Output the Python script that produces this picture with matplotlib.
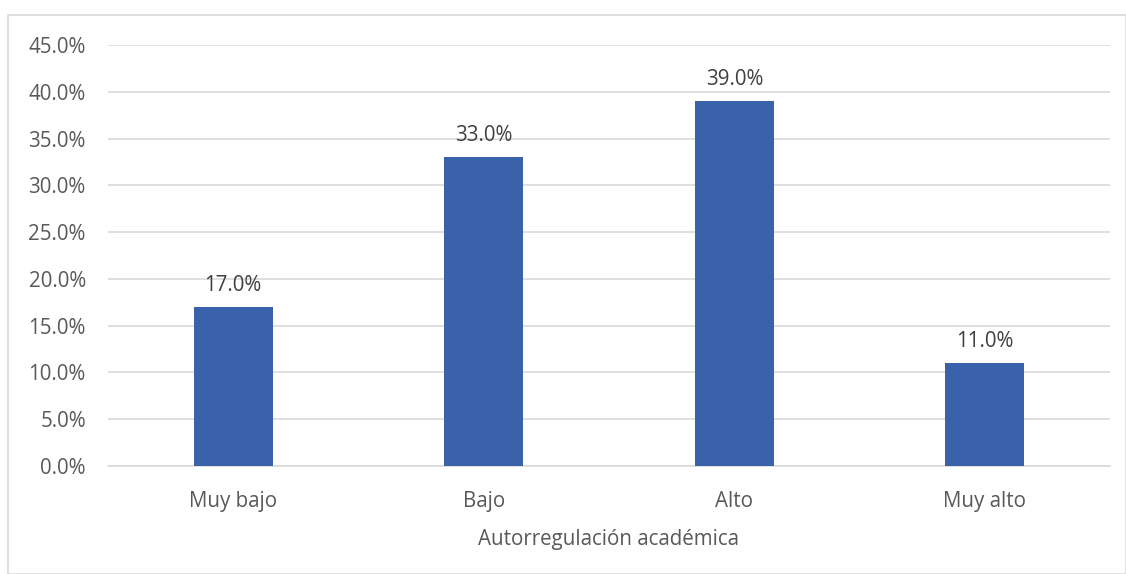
import matplotlib.pyplot as plt
from matplotlib.patches import Rectangle
from matplotlib.ticker import PercentFormatter

categories = ["Muy bajo", "Bajo", "Alto", "Muy alto"]
values = [17.0, 33.0, 39.0, 11.0]
yticks = [0, 5, 10, 15, 20, 25, 30, 35, 40, 45]

plt.rcParams["font.family"] = ["Open Sans", "DejaVu Sans"]
text_color = "#595959"
bar_color = "#3A62AA"
grid_color = "#D9D9D9"
fs = 14.8

fig = plt.figure(figsize=(11.26, 5.74), dpi=100)
ax = fig.add_axes([0.0959, 0.1882, 0.8899, 0.7334])

# chart frame like the office chart border
fig.patches.append(Rectangle((8 / 1126, 0), 1 - 8 / 1126, 1 - 15 / 574,
                             transform=fig.transFigure, fill=False,
                             edgecolor="#D9D9D9", linewidth=1.2))

x = range(len(categories))
bars = ax.bar(x, values, width=0.315, color=bar_color, zorder=3)

for rect, v in zip(bars, values):
    ax.annotate(f"{v:.1f}%", (rect.get_x() + rect.get_width() / 2, v),
                xytext=(0, 8), textcoords="offset points",
                ha="center", va="bottom", fontsize=fs, color="#404040")

ax.set_xlim(-0.5, len(categories) - 0.5)
ax.set_ylim(0, 45)
ax.set_yticks(yticks)
ax.yaxis.set_major_formatter(PercentFormatter(decimals=1))
ax.set_xticks(list(x))
ax.set_xticklabels(categories)
ax.tick_params(axis="both", length=0, labelsize=fs, labelcolor=text_color)
ax.tick_params(axis="y", pad=16)
ax.tick_params(axis="x", pad=18)

ax.grid(axis="y", color=grid_color, linewidth=1.2, zorder=0)
for s in ["top", "right", "left"]:
    ax.spines[s].set_visible(False)
ax.spines["bottom"].set_color(grid_color)
ax.spines["bottom"].set_linewidth(1.2)

ax.set_xlabel("Autorregulación académica", fontsize=fs, color=text_color, labelpad=12)

fig.savefig("out.png", dpi=100)
